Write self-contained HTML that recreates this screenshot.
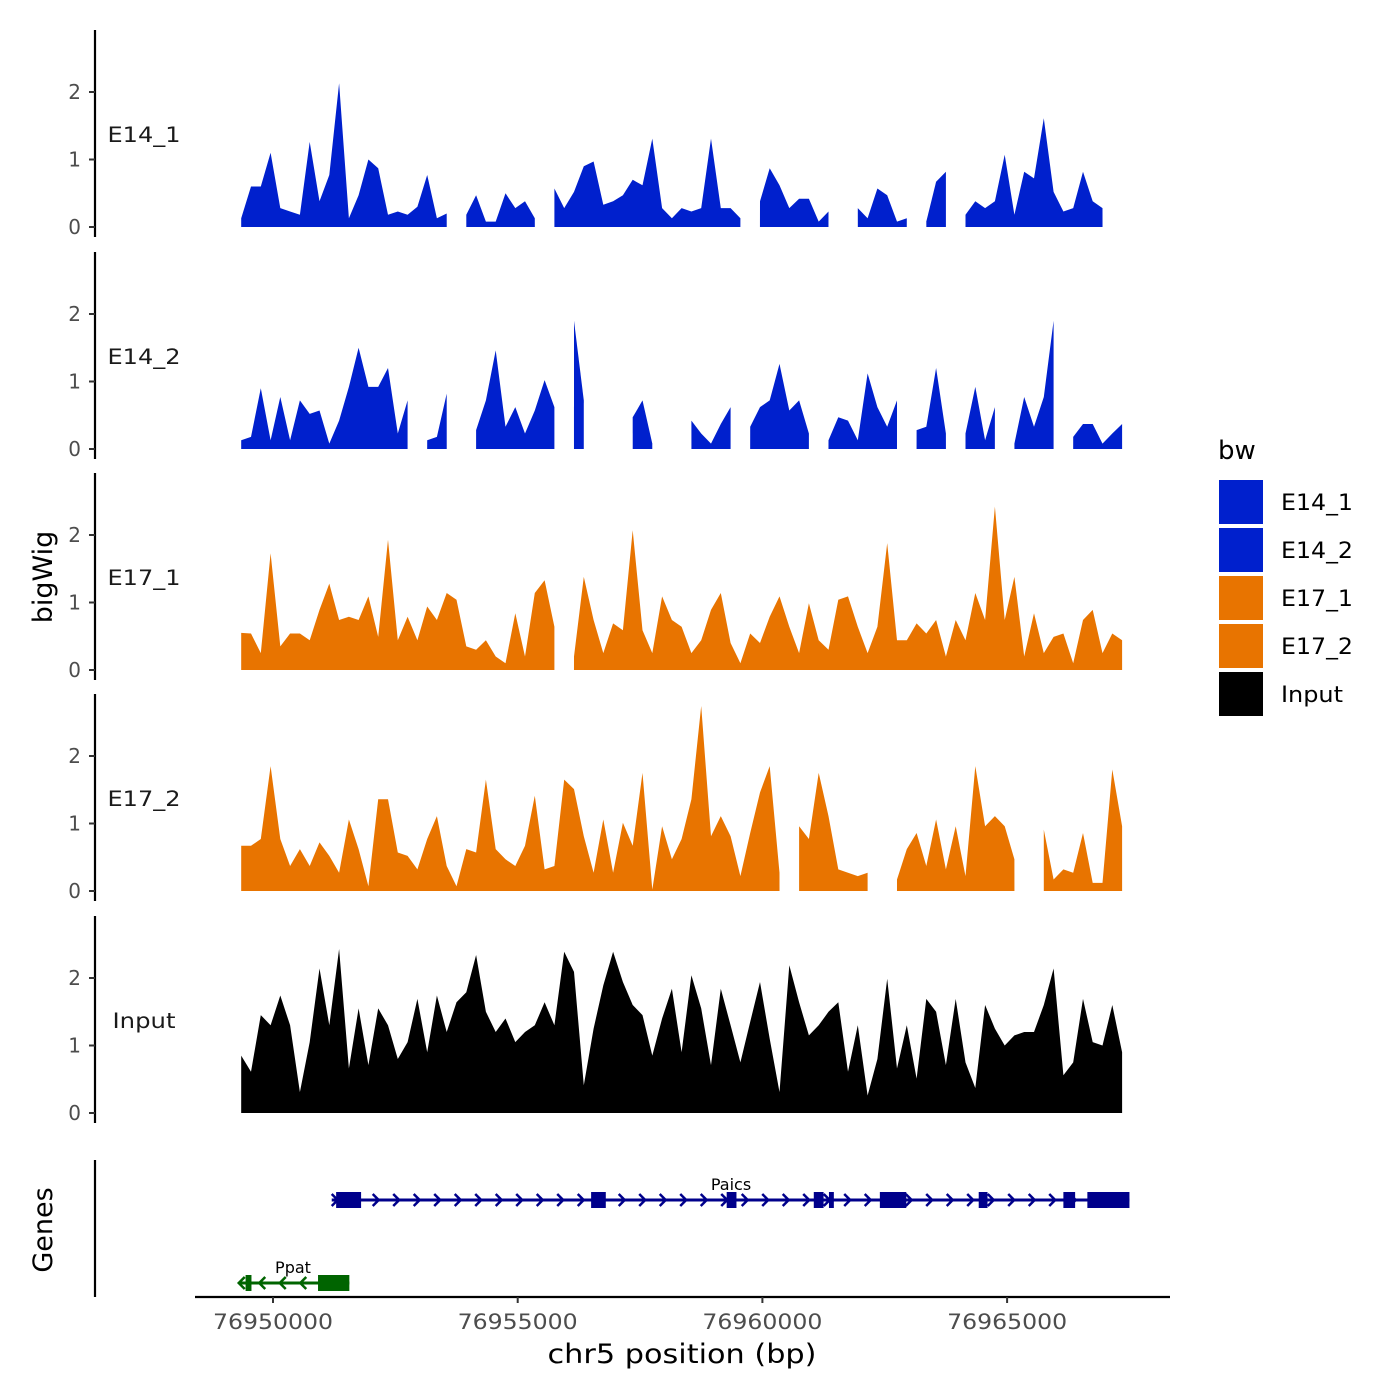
<!DOCTYPE html>
<html><head><meta charset="utf-8"><style>
body{margin:0;background:#fff}
svg text{font-family:"DejaVu Sans","Liberation Sans",sans-serif}
</style></head><body>
<svg id="chart" width="1400" height="1400" xmlns="http://www.w3.org/2000/svg" style="position:absolute;left:0;top:0">
<rect width="1400" height="1400" fill="#fff"/>
<g id="tracks"></g>
<g id="genes"></g>
<g id="axes"></g>
<text transform="translate(52,577) rotate(-90)" text-anchor="middle" font-size="27" fill="#000">bigWig</text>
<text transform="translate(52,1230) rotate(-90)" text-anchor="middle" font-size="27" fill="#000">Genes</text>
<text x="682" y="1363" text-anchor="middle" font-size="27" textLength="269" lengthAdjust="spacingAndGlyphs" fill="#000">chr5 position (bp)</text>
<g>
<text x="1218" y="459" font-size="26" fill="#000">bw</text>
<rect x="1219" y="480" width="44" height="44" fill="#0020CD"/>
<text x="1281" y="510" font-size="22" textLength="72" lengthAdjust="spacingAndGlyphs" fill="#000">E14_1</text>
<rect x="1219" y="528" width="44" height="44" fill="#0020CD"/>
<text x="1281" y="558" font-size="22" textLength="72" lengthAdjust="spacingAndGlyphs" fill="#000">E14_2</text>
<rect x="1219" y="576" width="44" height="44" fill="#E87400"/>
<text x="1281" y="606" font-size="22" textLength="72" lengthAdjust="spacingAndGlyphs" fill="#000">E17_1</text>
<rect x="1219" y="624" width="44" height="44" fill="#E87400"/>
<text x="1281" y="654" font-size="22" textLength="72" lengthAdjust="spacingAndGlyphs" fill="#000">E17_2</text>
<rect x="1219" y="672" width="44" height="44" fill="#000"/>
<text x="1281" y="702" font-size="22" textLength="62" lengthAdjust="spacingAndGlyphs" fill="#000">Input</text>
</g>
</svg>
<script>
const startBp = 76949350;
const stepBp = 200;
const trackNames = ["E14_1","E14_2","E17_1","E17_2","Input"];
const trackColors = ["#0020CD","#0020CD","#E87400","#E87400","#000000"];
const e14_1 = [0.13,0.6,0.6,1.1,0.28,0.23,0.18,1.26,0.38,0.77,2.13,0.13,0.47,1.0,0.87,0.18,0.23,0.18,0.3,0.77,0.13,0.2,null,0.18,0.47,0.08,0.08,0.5,0.28,0.38,0.13,null,0.57,0.28,0.52,0.9,0.97,0.33,0.38,0.47,0.7,0.62,1.31,0.28,0.13,0.28,0.23,0.28,1.31,0.28,0.28,0.13,null,0.38,0.87,0.62,0.28,0.42,0.42,0.08,0.23,null,null,0.28,0.13,0.57,0.47,0.08,0.13,null,0.08,0.67,0.82,null,0.18,0.38,0.28,0.38,1.07,0.18,0.82,0.72,1.61,0.52,0.23,0.28,0.82,0.38,0.28,null,null];
const e14_2 = [0.13,0.18,0.9,0.13,0.77,0.13,0.72,0.52,0.57,0.08,0.42,0.92,1.5,0.92,0.92,1.2,0.23,0.72,null,0.13,0.18,0.82,null,null,0.28,0.72,1.46,0.33,0.62,0.23,0.57,1.02,0.62,null,1.9,0.72,null,null,null,null,0.47,0.72,0.08,null,null,null,0.42,0.23,0.08,0.37,0.62,null,0.33,0.62,0.72,1.26,0.57,0.72,0.23,null,0.13,0.47,0.42,0.13,1.12,0.62,0.33,0.72,null,0.28,0.33,1.2,0.23,null,0.23,0.92,0.13,0.62,null,0.08,0.77,0.33,0.77,1.9,null,0.18,0.37,0.37,0.08,0.23,0.37];
const e17_1 = [0.55,0.54,0.25,1.73,0.35,0.54,0.54,0.44,0.89,1.28,0.74,0.79,0.74,1.09,0.49,1.93,0.44,0.79,0.44,0.94,0.74,1.14,1.04,0.35,0.3,0.44,0.2,0.1,0.84,0.2,1.14,1.33,0.64,null,0.2,1.38,0.74,0.25,0.69,0.59,2.07,0.59,0.25,1.09,0.74,0.64,0.25,0.44,0.89,1.14,0.4,0.1,0.54,0.4,0.79,1.09,0.64,0.25,0.99,0.44,0.3,1.04,1.09,0.64,0.25,0.64,1.88,0.44,0.44,0.69,0.54,0.74,0.2,0.74,0.44,1.14,0.74,2.42,0.74,1.38,0.2,0.84,0.25,0.49,0.54,0.1,0.74,0.89,0.25,0.54,0.44];
const e17_2 = [0.67,0.67,0.77,1.85,0.77,0.37,0.62,0.37,0.72,0.52,0.27,1.06,0.62,0.07,1.36,1.36,0.57,0.52,0.32,0.77,1.11,0.37,0.07,0.62,0.57,1.65,0.62,0.47,0.37,0.67,1.41,0.32,0.37,1.65,1.51,0.81,0.27,1.06,0.27,1.01,0.67,1.75,0.02,0.96,0.47,0.77,1.36,2.74,0.81,1.11,0.81,0.22,0.86,1.46,1.85,0.27,null,0.96,0.77,1.75,1.11,0.32,0.27,0.22,0.27,null,null,0.17,0.62,0.86,0.37,1.06,0.32,0.96,0.22,1.85,0.96,1.11,0.96,0.47,null,null,0.91,0.17,0.32,0.27,0.86,0.12,0.12,1.8,0.96];
const input = [0.85,0.61,1.45,1.3,1.74,1.3,0.31,1.05,2.14,1.3,2.43,0.66,1.55,0.71,1.55,1.3,0.8,1.05,1.69,0.9,1.74,1.2,1.64,1.79,2.34,1.5,1.2,1.4,1.05,1.2,1.3,1.64,1.3,2.39,2.09,0.41,1.25,1.89,2.39,1.94,1.6,1.45,0.85,1.4,1.84,0.9,2.04,1.55,0.71,1.84,1.3,0.75,1.35,1.94,1.1,0.31,2.19,1.64,1.15,1.3,1.5,1.64,0.61,1.3,0.26,0.8,1.99,0.66,1.3,0.51,1.69,1.5,0.71,1.69,0.75,0.37,1.6,1.25,1.0,1.15,1.2,1.2,1.6,2.14,0.56,0.75,1.69,1.05,1.0,1.6,0.9];
const yTicks = [0,1,2];
const xTicks = [76950000,76955000,76960000,76965000];
const paicsStart = 76951200, paicsEnd = 76967500;
const paicsExonStarts = [76951290,76956500,76959270,76961050,76961360,76962400,76964420,76966150,76966640];
const paicsExonEnds = [76951800,76956800,76959470,76961250,76961460,76962940,76964600,76966390,76967500];
const ppatStart = 76949300, ppatEnd = 76951560;
const ppatExonStarts = [76949440,76950920];
const ppatExonEnds = [76949560,76951560];

const NS="http://www.w3.org/2000/svg";
const X0=273, PXPERBP=244.7/5000;
function xs(bp){return X0+(bp-76950000)*PXPERBP;}
const baselines=[227,449,670,891,1113];
const UNIT=67.5;
function ys(t,v){return baselines[t]-v*UNIT;}
function mk(tag,attrs,parent){const e=document.createElementNS(NS,tag);for(const k in attrs)e.setAttribute(k,attrs[k]);parent.appendChild(e);return e;}
const tracksG=document.getElementById('tracks');
const axesG=document.getElementById('axes');
const genesG=document.getElementById('genes');
const series=[e14_1,e14_2,e17_1,e17_2,input];
series.forEach((arr,t)=>{
  let run=[];
  const flush=()=>{
    if(run.length>1){
      let d="M"+xs(run[0][0])+","+baselines[t];
      run.forEach(p=>{d+=" L"+xs(p[0]).toFixed(1)+","+ys(t,p[1]).toFixed(1);});
      d+=" L"+xs(run[run.length-1][0])+","+baselines[t]+"Z";
      const p=mk('path',{d:d,fill:trackColors[t]},tracksG);
      
      
    }
    run=[];
  };
  arr.forEach((v,i)=>{if(v===null){flush();}else run.push([startBp+i*stepBp,v]);});
  flush();
  const top=baselines[t]-197, bot=baselines[t]+10;
  const ax=mk('line',{x1:95,y1:top,x2:95,y2:bot,stroke:'#000','stroke-width':2.2},axesG);
  
  
  yTicks.forEach(v=>{
    mk('line',{x1:89,y1:ys(t,v),x2:95,y2:ys(t,v),stroke:'#333','stroke-width':2},axesG);
    const tx=mk('text',{x:81,y:ys(t,v)+7,'text-anchor':'end','font-size':20,fill:'#4d4d4d'},axesG);
    tx.textContent=v;
    
    
  });
  const lb=mk('text',{x:144,y:baselines[t]-85,'text-anchor':'middle','font-size':21,fill:'#1a1a1a'},axesG);
  lb.setAttribute('textLength', t===4?63:73);
  lb.setAttribute('lengthAdjust','spacingAndGlyphs');
  lb.textContent=trackNames[t];
  
  
});
const ga=mk('line',{x1:95,y1:1160,x2:95,y2:1297,stroke:'#000','stroke-width':2.2},axesG);


const xa=mk('line',{x1:195,y1:1297,x2:1170,y2:1297,stroke:'#000','stroke-width':2.2},axesG);


xTicks.forEach(b=>{
  mk('line',{x1:xs(b),y1:1297,x2:xs(b),y2:1303,stroke:'#333','stroke-width':2},axesG);
  const tx=mk('text',{x:xs(b),y:1329,'text-anchor':'middle','font-size':21,textLength:120,lengthAdjust:'spacingAndGlyphs',fill:'#4d4d4d'},axesG);
  tx.textContent=b;
  
  
});
function drawGene(s,e,starts,ends,y,color,dir,name,lx){
  const g=mk('g',{},genesG);
  
  
  mk('line',{x1:xs(s),y1:y,x2:xs(e),y2:y,stroke:color,'stroke-width':3},g);
  for(let x=xs(s)+3;x<xs(e)-2;x+=20.5){
    const d=dir>0?`M${x-3},${y-6} L${x+3},${y} L${x-3},${y+6}`:`M${x+3},${y-6} L${x-3},${y} L${x+3},${y+6}`;
    mk('path',{d:d,stroke:color,'stroke-width':2.5,fill:'none'},g);
  }
  starts.forEach((a,i)=>{mk('rect',{x:xs(a),y:y-8,width:xs(ends[i])-xs(a),height:16,fill:color},g);});
  const t=mk('text',{x:lx,y:y-10,'text-anchor':'middle','font-size':16,fill:'#000'},g);
  t.textContent=name;
}
drawGene(paicsStart,paicsEnd,paicsExonStarts,paicsExonEnds,1200,'#00008B',1,'Paics',731);
drawGene(ppatStart,ppatEnd,ppatExonStarts,ppatExonEnds,1283,'#006400',-1,'Ppat',293);
</script>
</body></html>
